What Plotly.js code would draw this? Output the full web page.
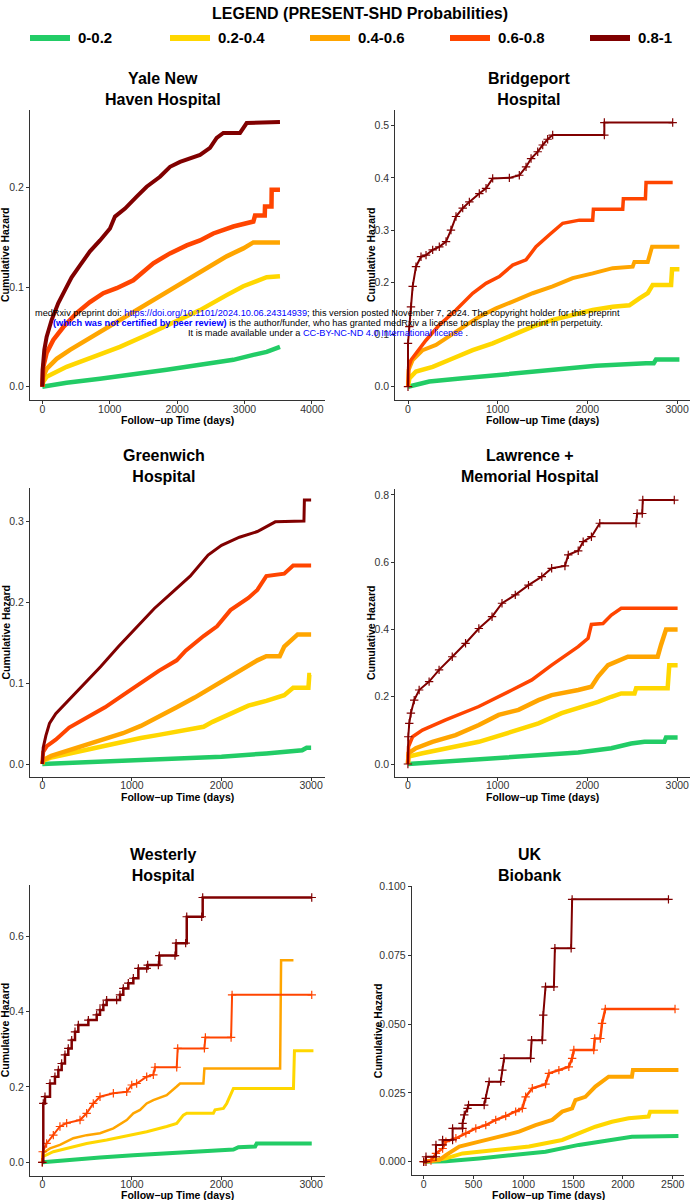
<!DOCTYPE html>
<html><head><meta charset="utf-8">
<script src="https://cdn.plot.ly/plotly-3.0.1.min.js"></script>
<style>html,body{margin:0;padding:0;background:#fff}#chart{width:692px;height:1200px}</style>
</head><body><div id="chart"></div>
<script>
// ---------- categories / labels ----------
const groups = ['0-0.2','0.2-0.4','0.4-0.6','0.6-0.8','0.8-1'];
const groupColors = ['#22CC66','#FFD700','#FFA500','#FF4500','#800000'];
const panelTitles = ['Yale New<br>Haven Hospital','Bridgeport<br>Hospital','Greenwich<br>Hospital','Lawrence +<br>Memorial Hospital','Westerly<br>Hospital','UK<br>Biobank'];
const legendTitle = 'LEGEND (PRESENT-SHD Probabilities)';
const xTitle = 'Follow\u2212up Time (days)';
const yTitle = 'Cumulative Hazard';

// ---------- Yale New Haven Hospital ----------
const yale_t1 = [0,361,856,1350,1845,2340,2834,3131,3329,3526];
const yale_h1 = [0,.004,.008,.012,.017,.022,.027,.032,.035,.040];
const yale_t2 = [0,15,64,361,757,1152,1548,1944,2340,2735,2982,3180,3329,3526];
const yale_h2 = [0,.005,.010,.020,.030,.040,.052,.064,.077,.092,.101,.106,.110,.111];
const yale_t3 = [0,15,64,213,411,658,955,1251,1548,1845,2142,2438,2735,2982,3131,3526];
const yale_h3 = [0,.010,.018,.028,.037,.047,.059,.070,.082,.094,.107,.119,.131,.139,.145,.145];
const yale_t4 = [0,15,64,163,312,509,707,905,1103,1350,1647,1894,2142,2340,2537,2834,3131,3156,3300,3304,3400,3403,3526];
const yale_h4 = [0,.020,.034,.047,.060,.074,.085,.094,.099,.107,.124,.134,.142,.147,.154,.161,.166,.172,.172,.181,.181,.198,.198];
const yale_t5 = [0,5,30,64,138,237,336,435,559,707,856,1004,1078,1227,1400,1548,1746,1895,2043,2191,2340,2488,2587,2686,2933,3032,3526];
const yale_h5 = [0,.017,.037,.050,.067,.084,.097,.110,.122,.136,.147,.159,.171,.179,.191,.201,.211,.221,.226,.229,.233,.240,.250,.255,.255,.265,.266];

// ---------- Bridgeport Hospital ----------
const bri_t1 = [0,238,610,981,1353,1725,2096,2654,2740,2765,3026];
const bri_h1 = [0,.010,.016,.022,.029,.035,.040,.045,.045,.052,.052];
const bri_t2 = [0,15,89,275,498,721,944,1167,1390,1613,1836,2059,2282,2468,2580,2673,2728,2933,2944,3026];
const bri_h2 = [0,.016,.029,.038,.054,.070,.083,.099,.115,.128,.137,.147,.153,.156,.169,.179,.195,.195,.225,.225];
const bri_t3 = [0,7,52,164,312,498,647,795,981,1167,1390,1613,1836,2059,2282,2505,2524,2673,2721,3026];
const bri_h3 = [0,.032,.051,.070,.080,.102,.118,.134,.150,.163,.179,.192,.208,.217,.227,.230,.239,.239,.268,.268];
const bri_t4 = [0,7,33,89,201,349,535,721,870,1018,1167,1316,1427,1576,1725,1911,2059,2067,2394,2401,2647,2654,2951];
const bri_h4 = [0,.038,.051,.064,.089,.118,.147,.179,.198,.211,.233,.243,.268,.291,.313,.319,.319,.340,.340,.360,.360,.391,.391];
const bri_t5 = [0,0,15,33,52,89,145,201,275,349,424,479,535,610,684,795,870,944,1130,1241,1316,1372,1446,1502,1557,1613,2189,2189,2951];
const bri_h5 = [0,.083,.115,.153,.192,.230,.249,.252,.262,.268,.278,.300,.326,.342,.354,.370,.380,.399,.400,.405,.421,.437,.450,.463,.474,.482,.482,.506,.506];

// ---------- Greenwich Hospital ----------
const gre_t1 = [0,500,1000,1500,2000,2500,2900,2950,3000];
const gre_h1 = [0,.002,.004,.006,.009,.013,.017,.020,.020];
const gre_t2 = [0,10,100,300,500,700,900,1100,1300,1500,1700,1800,1900,2100,2300,2500,2700,2800,2970,2980,3000];
const gre_h2 = [0,.004,.008,.013,.018,.023,.028,.032,.036,.040,.044,.046,.052,.062,.072,.078,.085,.094,.094,.110,.110];
const gre_t3 = [0,10,100,300,500,700,900,1100,1300,1500,1700,1900,2000,2200,2400,2500,2650,2700,2750,2850,3000];
const gre_h3 = [0,.005,.010,.017,.024,.030,.038,.047,.058,.070,.082,.095,.103,.115,.128,.133,.133,.145,.150,.160,.160];
const gre_t4 = [0,10,50,150,300,500,700,900,1100,1300,1500,1600,1800,1950,2100,2300,2400,2500,2700,2800,3000];
const gre_h4 = [0,.015,.022,.030,.045,.058,.070,.085,.100,.115,.128,.140,.158,.170,.190,.205,.215,.232,.235,.245,.245];
const gre_t5 = [0,10,40,80,150,260,450,650,850,1050,1250,1450,1650,1850,2000,2200,2400,2600,2920,2925,3000];
const gre_h5 = [0,.020,.035,.050,.062,.075,.097,.120,.145,.168,.192,.212,.232,.258,.270,.280,.287,.299,.300,.326,.326];

// ---------- Lawrence + Memorial Hospital ----------
const law_t1 = [0,421,790,1159,1528,1897,2266,2487,2635,2856,2875,3004];
const law_h1 = [0,.007,.014,.020,.026,.034,.047,.061,.066,.066,.079,.079];
const law_t2 = [0,7,162,421,790,1159,1454,1712,1970,2118,2266,2376,2524,2542,2893,2911,3004];
const law_h2 = [0,.022,.032,.047,.066,.096,.121,.151,.171,.185,.200,.210,.210,.225,.225,.294,.294];
const law_t3 = [0,7,89,273,531,790,1011,1232,1454,1601,1897,2044,2118,2229,2450,2782,2819,2875,3004];
const law_h3 = [0,.032,.047,.066,.086,.116,.146,.161,.190,.205,.220,.230,.260,.294,.319,.319,.354,.400,.400];
const law_t4 = [0,7,52,162,421,790,1159,1380,1601,1823,1897,2007,2044,2173,2266,2376,3004];
const law_h4 = [0,.052,.081,.101,.131,.171,.220,.250,.294,.334,.349,.374,.415,.418,.443,.463,.463];
const law_t5 = [0,4,15,33,70,125,236,347,494,642,790,937,1048,1196,1343,1491,1601,1749,1786,1897,1952,2044,2137,2542,2553,2610,2616,2967];
const law_h5 = [0,.081,.121,.151,.190,.220,.245,.280,.319,.359,.403,.438,.478,.503,.532,.557,.582,.589,.622,.634,.661,.676,.716,.716,.745,.745,.785,.785];

// ---------- Westerly Hospital ----------
const wes_t1 = [0,272,644,1016,1388,1760,2133,2189,2375,2393,3007];
const wes_h1 = [0,.006,.013,.019,.024,.031,.034,.040,.042,.050,.050];
const wes_t2 = [0,4,123,272,495,718,942,1165,1388,1500,1574,1612,1909,1928,2021,2058,2133,2803,2814,3026];
const wes_h2 = [0,.015,.028,.037,.050,.059,.070,.081,.095,.103,.125,.130,.130,.139,.143,.156,.196,.196,.296,.296];
const wes_t3 = [0,4,86,197,346,495,644,793,942,1016,1091,1165,1239,1388,1500,1537,1798,1809,2654,2665,2803];
const wes_h3 = [0,.024,.037,.046,.064,.072,.077,.090,.112,.130,.139,.156,.165,.178,.201,.209,.209,.249,.249,.536,.536];
const wes_t4 = [0,4,48,123,197,272,421,495,569,644,793,942,998,1053,1165,1239,1258,1500,1511,1809,1820,2107,2118,3007];
const wes_h4 = [0,.028,.050,.072,.095,.104,.112,.130,.156,.174,.183,.187,.205,.209,.227,.232,.252,.252,.302,.302,.331,.331,.444,.444];
const wes_t5 = [0,11,30,86,141,179,216,253,290,328,365,402,514,607,644,681,718,830,867,904,960,1016,1072,1165,1176,1295,1306,1481,1493,1600,1612,1779,1790,3007];
const wes_h5 = [0,.156,.174,.209,.227,.245,.262,.285,.302,.324,.346,.364,.377,.391,.404,.417,.430,.430,.444,.461,.475,.488,.514,.514,.523,.523,.548,.548,.581,.581,.651,.651,.702,.702];

// ---------- UK Biobank ----------
const uk_t1 = [0,223,557,890,1223,1557,1890,2090,2557];
const uk_h1 = [0,.0002,.0012,.0024,.0036,.0061,.0079,.0091,.0093];
const uk_t2 = [0,223,390,723,1057,1390,1557,1723,1890,2057,2257,2273,2557];
const uk_h2 = [0,.0012,.003,.0042,.0055,.0079,.0103,.0127,.0145,.0158,.0164,.0182,.0182];
const uk_t3 = [0,157,223,357,557,757,957,1123,1290,1390,1490,1523,1623,1723,1790,1857,2090,2100,2557];
const uk_h3 = [0,.0006,.0024,.0055,.0073,.0091,.0109,.0133,.0152,.0182,.0194,.0224,.0236,.0273,.0291,.0309,.0309,.0333,.0333];
const uk_t4 = [0,73,123,190,223,323,423,523,623,723,823,923,990,1023,1090,1223,1257,1357,1457,1490,1507,1707,1717,1773,1790,1823,2523];
const uk_h4 = [0,.0004,.003,.0048,.0073,.0085,.0103,.0121,.0133,.0152,.0166,.0182,.0194,.0236,.0267,.0282,.0321,.0333,.0345,.0376,.0406,.0406,.0448,.0448,.0503,.0555,.0555];
const uk_t5 = [0,23,23,123,123,190,190,290,290,390,390,407,440,450,607,623,657,773,790,807,1073,1083,1190,1200,1223,1307,1317,1480,1490,2457];
const uk_h5 = [0,0,.0018,.0018,.0061,.0061,.0079,.0079,.0121,.0121,.0139,.017,.0194,.0206,.0206,.023,.0291,.0291,.0333,.0376,.0376,.0442,.0442,.0533,.0636,.0636,.0776,.0776,.0954,.0954];

// ---------- ticks ----------
const yale_xticks = [0,1000,2000,3000,4000], yale_yticks = [0,0.1,0.2];
const bri_xticks = [0,1000,2000,3000], bri_yticks = [0,0.1,0.2,0.3,0.4,0.5];
const gre_xticks = [0,1000,2000,3000], gre_yticks = [0,0.1,0.2,0.3];
const law_xticks = [0,1000,2000,3000], law_yticks = [0,0.2,0.4,0.6,0.8];
const wes_xticks = [0,1000,2000,3000], wes_yticks = [0,0.2,0.4,0.6];
const uk_xticks = [0,500,1000,1500,2000,2500], uk_yticks = [0,0.025,0.05,0.075,0.1];

// ---------- layout geometry (pixels) ----------
const W = 692, Hh = 1200;
const panels = [
  {T:[yale_t1,yale_t2,yale_t3,yale_t4,yale_t5], Y:[yale_h1,yale_h2,yale_h3,yale_h4,yale_h5], box:[30,325,110,400], xr:[-182.5,4194], yr:[-0.01337,0.2781], xt:yale_xticks, yt:yale_yticks, yf:'.1f', tx:163, ty:89, ytx:5, xty:420, w:[4.5,4.5,4.5,4.5,4], mk:[0,0,0,0,0]},
  {T:[bri_t1,bri_t2,bri_t3,bri_t4,bri_t5], Y:[bri_h1,bri_h2,bri_h3,bri_h4,bri_h5], box:[395.3,690,110,400], xr:[-141.6,3144], yr:[-0.0255,0.530], xt:bri_xticks, yt:bri_yticks, yf:'.1f', tx:529, ty:89, ytx:371, xty:420, w:[4.5,4.5,4,3.5,2], mk:[0,0,0,0,1]},
  {T:[gre_t1,gre_t2,gre_t3,gre_t4,gre_t5], Y:[gre_h1,gre_h2,gre_h3,gre_h4,gre_h5], box:[30,325,488.3,776.7], xr:[-137.3,3155], yr:[-0.01568,0.3404], xt:gre_xticks, yt:gre_yticks, yf:'.1f', tx:164, ty:466, ytx:5, xty:797, w:[4.5,4.5,4.5,4,3], mk:[0,0,0,0,0]},
  {T:[law_t1,law_t2,law_t3,law_t4,law_t5], Y:[law_h1,law_h2,law_h3,law_h4,law_h5], box:[395.3,690,489.3,776.7], xr:[-140.5,3142], yr:[-0.03777,0.8169], xt:law_xticks, yt:law_yticks, yf:'.1f', tx:530, ty:466, ytx:371, xty:797, w:[4.5,4.5,4.5,3.5,2], mk:[0,0,0,0,1]},
  {T:[wes_t1,wes_t2,wes_t3,wes_t4,wes_t5], Y:[wes_h1,wes_h2,wes_h3,wes_h4,wes_h5], box:[30,325,885,1175.7], xr:[-137.3,3155], yr:[-0.0355,0.7352], xt:wes_xticks, yt:wes_yticks, yf:'.1f', tx:163, ty:865, ytx:5, xty:1195, w:[4,3,2.5,2,2.5], mk:[0,0,0,1,1], shape:'hv'},
  {T:[uk_t1,uk_t2,uk_t3,uk_t4,uk_t5], Y:[uk_h1,uk_h2,uk_h3,uk_h4,uk_h5], box:[411.7,684.3,886,1175], xr:[-120.5,2616], yr:[-0.00484,0.10025], xt:uk_xticks, yt:uk_yticks, yf:'.3f', tx:529, ty:865, ytx:377.7, xty:1195, w:[4,4,4,2.5,2], mk:[0,0,0,1,1]}
];

const FONT = 'Liberation Sans, Arial, Helvetica, sans-serif';
const AX = '#333333';
const traces = [];
const layout = {
  width: W, height: Hh, margin:{l:0,r:0,t:0,b:0}, showlegend:false,
  paper_bgcolor:'#ffffff', plot_bgcolor:'#ffffff',
  annotations:[], shapes:[]
};
const px = v => v / W, py = v => 1 - v / Hh;

panels.forEach((p, i) => {
  const n = i === 0 ? '' : String(i + 1);
  const xa = 'x' + n, ya = 'y' + n;
  layout['xaxis' + n] = {
    domain:[px(p.box[0]), px(p.box[1])], range:p.xr, anchor:ya,
    showline:true, linecolor:AX, linewidth:1, ticks:'outside', ticklen:3, tickcolor:AX,
    tickvals:p.xt, tickformat:'d', showgrid:false, zeroline:false, ticklabelstandoff:-4,
    tickfont:{family:FONT, size:10.5, color:'#333'}
  };
  layout['yaxis' + n] = {
    domain:[py(p.box[3]), py(p.box[2])], range:p.yr, anchor:xa,
    showline:true, linecolor:AX, linewidth:1, ticks:'outside', ticklen:3, tickcolor:AX,
    tickvals:p.yt, tickformat:p.yf, showgrid:false, zeroline:false,
    tickfont:{family:FONT, size:10.5, color:'#333'}
  };
  for (let g = 0; g < 5; g++) {
    const tr = {
      type:'scatter', x:p.T[g], y:p.Y[g], xaxis:xa, yaxis:ya, name:groups[g],
      mode: p.mk[g] ? 'lines+markers' : 'lines',
      line:{color:groupColors[g], width:p.w[g], shape: (p.shape && g===4) ? 'hv' : 'linear'},
      hoverinfo:'skip'
    };
    if (p.mk[g]) tr.marker = {symbol:'cross-thin', size:6, color:groupColors[g], line:{color:groupColors[g], width:1.2}};
    traces.push(tr);
  }
  layout.annotations.push({xref:'paper', yref:'paper', x:px(p.tx), y:py(p.ty), text:'<b>'+panelTitles[i]+'</b>', showarrow:false, xanchor:'center', yanchor:'middle', font:{family:FONT, size:16, color:'#000'}});
  layout.annotations.push({xref:'paper', yref:'paper', x:px(p.ytx), y:py((p.box[2]+p.box[3])/2), text:'<b>'+yTitle+'</b>', textangle:-90, showarrow:false, xanchor:'center', yanchor:'middle', font:{family:FONT, size:10.5, color:'#000'}});
  layout.annotations.push({xref:'paper', yref:'paper', x:px((p.box[0]+p.box[1])/2), y:py(p.xty), text:'<b>'+xTitle+'</b>', showarrow:false, xanchor:'center', yanchor:'middle', font:{family:FONT, size:10.5, color:'#000'}});
});

// legend
layout.annotations.push({xref:'paper', yref:'paper', x:px(360), y:py(13), text:'<b>'+legendTitle+'</b>', showarrow:false, xanchor:'center', yanchor:'middle', font:{family:FONT, size:16, color:'#000'}});
groups.forEach((g, i) => {
  const x0 = 30 + i * 140;
  layout.shapes.push({type:'line', xref:'paper', yref:'paper', x0:px(x0), x1:px(x0+40), y0:py(38), y1:py(38), line:{color:groupColors[i], width:6}});
  layout.annotations.push({xref:'paper', yref:'paper', x:px(x0+46), y:py(38), text:'<b>'+g+'</b>', showarrow:false, xanchor:'left', yanchor:'middle', font:{family:FONT, size:15, color:'#000'}});
});

// medRxiv notice
const notice = [
  'medRxiv preprint doi: <span style="color:#0000ff">https://doi.org/10.1101/2024.10.06.24314939</span>; this version posted November 7, 2024. The copyright holder for this preprint',
  '<span style="color:#0000ff"><b>(which was not certified by peer review)</b></span> is the author/funder, who has granted medRxiv a license to display the preprint in perpetuity.',
  'It is made available under a <span style="color:#0000ff">CC-BY-NC-ND 4.0 International license</span> .'
];
notice.forEach((t, i) => {
  layout.annotations.push({xref:'paper', yref:'paper', x:px(327.5), y:py(313 + i*10), text:t, showarrow:false, xanchor:'center', yanchor:'middle', font:{family:FONT, size:9.2, color:'#000'}});
});

Plotly.newPlot('chart', traces, layout, {staticPlot:true, displayModeBar:false});
</script>
</body></html>
